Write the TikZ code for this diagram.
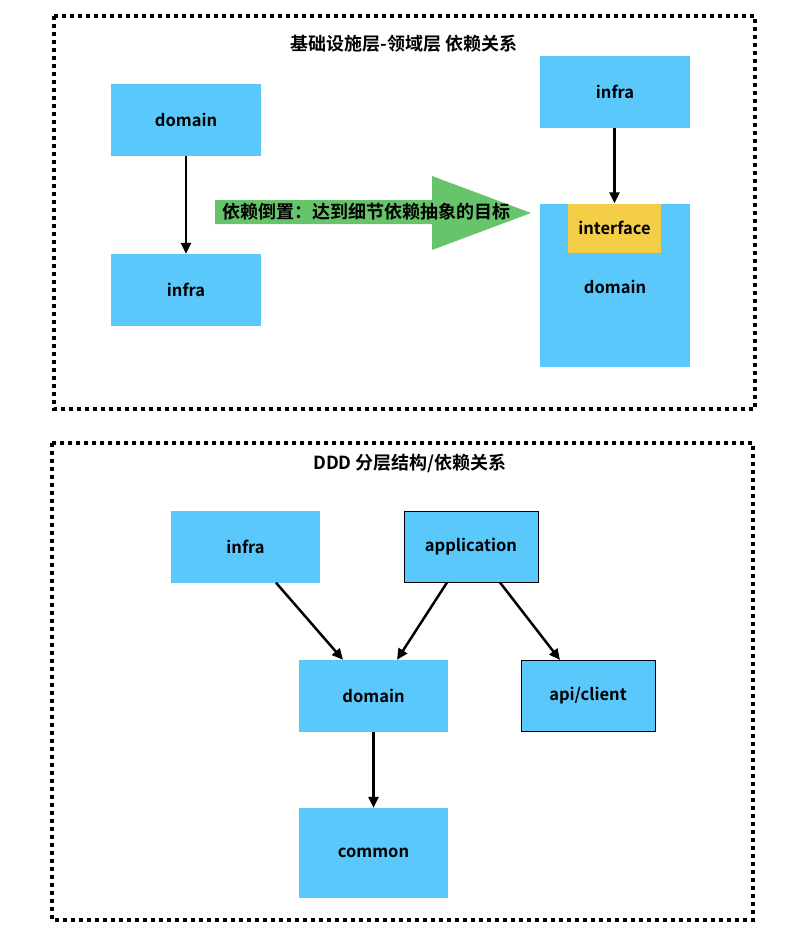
\documentclass[tikz,border=0pt]{standalone}
\usepackage{fontspec}
\setmainfont{Noto Sans CJK SC}[BoldFont={Noto Sans CJK SC Bold}]
\usetikzlibrary{arrows.meta}
\definecolor{layerblue}{HTML}{5AC8FA}
\definecolor{ifyellow}{HTML}{F5CE47}
\definecolor{invgreen}{HTML}{66C46A}

\begin{document}
\begin{tikzpicture}[x=1pt,y=-1pt,font=\fontsize{16.5}{19}\selectfont\bfseries,
  layer/.style={fill=layerblue,draw=none,inner sep=0pt,minimum width=150pt,minimum height=72pt},
  layerframed/.style={layer,draw=black,line width=1pt},
  cjklabel/.style={font=\fontsize{18}{21}\selectfont\bfseries},
  frame/.style={draw=black,line width=3.5pt,dash pattern=on 4pt off 4pt},
  dep/.style={draw=black,line width=2.5pt,-{Triangle[length=11pt,width=10pt]}}]
\useasboundingbox (0,0) rectangle (792,936);
% frames
\draw[frame] (54,16) rectangle (755,409);
\draw[frame] (52,443) rectangle (753,920);
\node[cjklabel] (title-top) at (404,44) {基础设施层-领域层 依赖关系};
\node[cjklabel] (title-bottom) at (410,463) {DDD 分层结构/依赖关系};
% before inversion
\node[layer] (domain-0) at (186,120) {domain};
\node[layer] (infra-0) at (186,290) {infra};
\draw[dep] (domain-0.south) -- (infra-0.north);
% inversion arrow
\path[fill=invgreen,draw=none] (215,200) -- (432,200) -- (432,176) -- (531,213) -- (432,250) -- (432,224) -- (215,224) -- cycle;
\node[cjklabel,anchor=west,inner sep=0pt] (inversion-label) at (222,212) {依赖倒置：达到细节依赖抽象的目标};
% after inversion
\node[layer] (infra-1) at (615,92) {infra};
\node[layer,minimum height=163pt] (domain-1) at (615,285.5) {};
\node[anchor=center] (domain-1-label) at (615,287) {domain};
\node[fill=ifyellow,inner sep=0pt,minimum width=93pt,minimum height=49pt] (interface-1) at (614.5,228) {interface};
\draw[dep] (infra-1.south -| interface-1.north) -- (interface-1.north);
% ddd layers
\node[layer,minimum width=149pt] (infra-2) at (245.5,546.5) {infra};
\node[layerframed,minimum width=134pt,minimum height=71pt] (application-2) at (471,546.5) {application};
\node[layer,minimum width=149pt] (domain-2) at (373.5,696) {domain};
\node[layerframed,minimum width=134pt,minimum height=71pt] (client-2) at (588,696) {api/client};
\node[layer,minimum width=149pt,minimum height=90pt] (common-2) at (373.5,853) {common};
\draw[dep] (infra-2.south -| 276,0) -- (domain-2.north -| 343,0);
\draw[dep] (application-2.south -| 447,0) -- (domain-2.north -| 397,0);
\draw[dep] (application-2.south -| 500,0) -- (client-2.north -| 560,0);
\draw[dep] (domain-2.south) -- (common-2.north);
\end{tikzpicture}
\end{document}
